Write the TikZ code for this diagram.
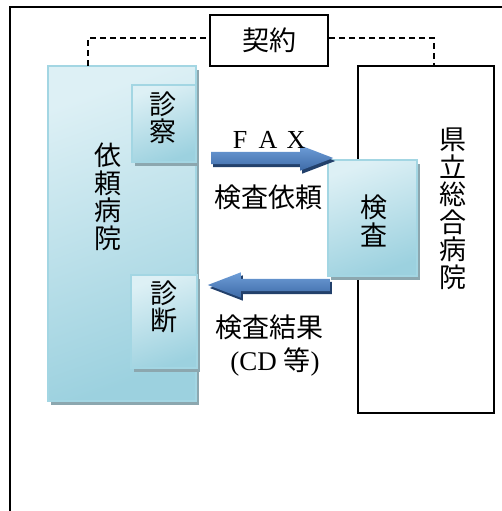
\documentclass[tikz,border=0pt]{standalone}
\usepackage{fontspec}
\setmainfont{Liberation Serif}
\newfontfamily\cjk{Noto Sans CJK JP}
\usetikzlibrary{positioning}
\usetikzlibrary{shapes.arrows}
\usetikzlibrary{shadows}
\definecolor{boxlight}{HTML}{DDF0F5}
\definecolor{boxdark}{HTML}{9CD1DF}
\definecolor{boxedge}{HTML}{A3D6E3}
\definecolor{boxshadow}{HTML}{8CA7AF}
\definecolor{arrowlight}{HTML}{6E9ED8}
\definecolor{arrowdark}{HTML}{3E6AA7}
\definecolor{arrowshadow}{HTML}{22406B}
\newcommand{\fwletter}[1]{\makebox[28pt]{#1}}

\begin{document}
\begin{tikzpicture}[x=1pt, y=-1pt,
	jptext/.style={font=\cjk\fontsize{27}{27.5}\selectfont, align=center, inner sep=0pt},
	bluebox/.style={rectangle, draw=boxedge, line width=2pt, top color=boxlight, bottom color=boxdark, shading angle=20, drop shadow={shadow xshift=3pt, shadow yshift=-4pt, fill=boxshadow, opacity=1}},
	whitebox/.style={rectangle, draw=black, line width=1.6pt, fill=white},
	bluearrow/.style={single arrow, anchor=tail, minimum height=122pt, inner xsep=0pt, inner ysep=6pt, single arrow head extend=6.5pt, single arrow tip angle=42, top color=arrowlight, bottom color=arrowdark, drop shadow={shadow xshift=2pt, shadow yshift=-3pt, fill=arrowshadow, opacity=1}},
	contractline/.style={line width=1.3pt, dash pattern=on 6pt off 4pt}]
	\useasboundingbox (0,0) rectangle (502,511);
	\draw[line width=2pt] (10,511) -- (10,7) -- (502,7);
	\node[whitebox, minimum width=118pt, minimum height=51pt, jptext] (keiyaku) at (269,40.5) {契約};
	\node[whitebox, minimum width=136pt, minimum height=347pt] (kenritsu) at (426,239.5) {};
	\node[bluebox, minimum width=148pt, minimum height=335pt] (irai) at (122,233.5) {};
	\node[bluebox, minimum width=64pt, minimum height=77pt] (shinsatsu) at (164,123.5) {};
	\node[bluebox, minimum width=66pt, minimum height=93pt] (shindan) at (164,321.5) {};
	\node[bluebox, minimum width=89pt, minimum height=116pt] (kensa) at (372.5,218) {};
	\node[jptext] (iraitext) at (108,197) {依\\頼\\病\\院};
	\node[jptext] (shinsatsutext) at (163,118) {診\\察};
	\node[jptext] (shindantext) at (164,307) {診\\断};
	\node[jptext] (kensatext) at (374,221) {検\\査};
	\node[jptext] (kenritsutext) at (453,209) {県\\立\\総\\合\\病\\院};
	\node[bluearrow] (faxarrow) at (211,158) {};
	\node[bluearrow, shape border rotate=180] (resultarrow) at (330,285) {};
	\node[inner sep=0pt, font=\fontsize{26}{26}\selectfont] (faxlabel) at (268,140) {\fwletter{F}\fwletter{A}\fwletter{X}};
	\node[jptext] (requestlabel) at (268,197) {検査依頼};
	\node[jptext] (resultlabel) at (269,327) {検査結果};
	\node[jptext] (cdlabel) at (275,362) {{\rmfamily(CD }等{\rmfamily)}};
	\coordinate (dashleft) at (88,66);
	\coordinate (dashright) at (434,66);
	\draw[contractline] (dashleft) |- ([yshift=2.5pt]keiyaku.west);
	\draw[contractline] ([yshift=2.5pt]keiyaku.east) -| (dashright);
\end{tikzpicture}
\end{document}
